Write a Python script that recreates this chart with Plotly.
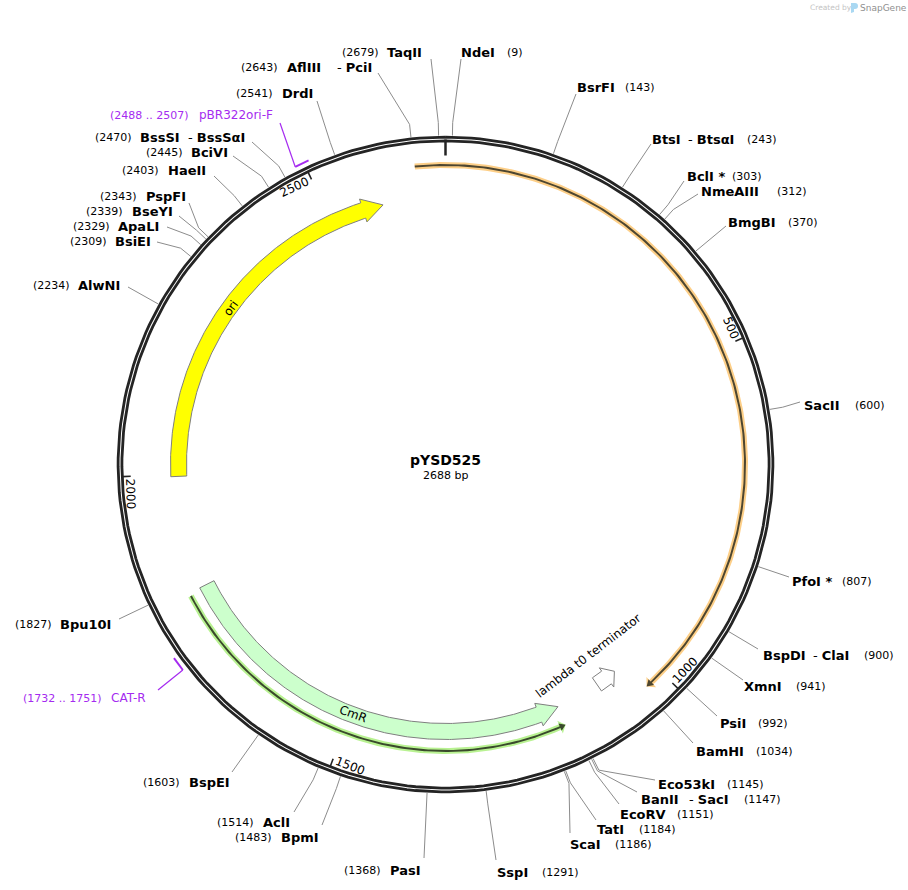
import numpy as np
import plotly.graph_objects as go

plasmid_name = "pYSD525"
plasmid_bp = 2688

# restriction sites, clockwise from the origin
site_names = ["NdeI", "BsrFI", "BtsI", "BclI *", "NmeAIII", "BmgBI", "SacII", "PfoI *", "BspDI", "XmnI", "PsiI",
              "BamHI", "Eco53kI", "BanII", "EcoRV", "TatI", "ScaI", "SspI", "PasI", "BpmI", "AclI", "BspEI",
              "Bpu10I", "AlwNI", "BsiEI", "ApaLI", "BseYI", "PspFI", "HaeII", "BciVI", "BssSI", "DrdI", "AflIII",
              "TaqII"]
site_pos = [9, 143, 243, 303, 312, 370, 600, 807, 900, 941, 992, 1034, 1145, 1147, 1151, 1184, 1186, 1291, 1368,
            1483, 1514, 1603, 1827, 2234, 2309, 2329, 2339, 2343, 2403, 2445, 2470, 2541, 2643, 2679]
# isoschizomers printed after a dash
second_names = {"BtsI": "BtsαI", "BspDI": "ClaI", "BanII": "SacI", "BssSI": "BssSαI", "AflIII": "PciI"}

# label layout, same order as the sites
name_x = [461, 577, 652, 687, 701, 728, 804, 792, 763, 744, 720, 696, 658, 641, 620, 597, 570, 497, 390, 281, 263,
          189, 60, 78, 115, 118, 132, 146, 168, 191, 140, 282, 287, 387]
num_x = [507, 625, 747, 732, 777, 788, 855, 842, 864, 796, 758, 756, 727, 744, 677, 639, 615, 542, 344, 235, 217,
         143, 15, 33, 70, 73, 86, 100, 122, 146, 95, 236, 241, 342]
label_y = [52, 87, 139, 176, 191, 222, 405, 581, 655, 686, 723, 751, 784, 799, 814, 829, 844, 872, 870, 837, 822,
           782, 624, 285, 241, 226, 211, 196, 170, 152, 137, 93, 67, 52]
leader_x = [461, 576, 651, 684, 698, 726, 800, 789, 758, 743, 717, 693, 655, 637, 619, 596, 570, 496, 424, 322, 294,
            232, 119, 128, 157, 167, 179, 189, 214, 233, 252, 317, 378, 431]
leader_y = [59, 94, 144, 181, 194, 226, 402, 577, 649, 680, 716, 743, 780, 792, 804, 820, 833, 860, 858, 825, 812,
            772, 619, 287, 242, 227, 216, 203, 176, 156, 142, 101, 73, 59]
second_x = {"BtsI": 688, "BspDI": 813, "BanII": 689, "BssSI": 188, "AflIII": 337}

# primers
primer_names = ["pBR322ori-F", "CAT-R"]
primer_start = [2488, 1732]
primer_end = [2507, 1751]
primer_name_x = [199, 111]
primer_num_x = [110, 23]
primer_label_y = [115, 698]
primer_leader_x = [280, 158]
primer_leader_y = [123, 690]

# block features, tip is at feature_end
feature_names = ["ori", "CmR", "lambda t0 terminator"]
feature_start = [1997, 1817, 1086]
feature_end = [2587, 1158, 1051]
feature_head = [33, 33, 16]
feature_fill = ["#ffff00", "#ccffcc", "#ffffff"]

# thin arrows with a glow
strand_start = [2644, 1812]
strand_end = [1029 + plasmid_bp, 1159]
strand_radius = [299.5, 286.5]
strand_head = [9, 9]
strand_glow = ["#fdcf88", "#b9f292"]
strand_core = ["#4d4630", "#3a4a2c"]

ruler_ticks = [500, 1000, 1500, 2000, 2500]

cx, cy = 445.5, 464.5
LINE = "#242424"
PURPLE = "#a52bf0"
FONT = "DejaVu Sans"

fig = go.Figure()


def bp_xy(bp, r):
    a = 2 * np.pi * np.asarray(bp, dtype=float) / plasmid_bp
    return cx + r * np.sin(a), cy - r * np.cos(a)


def arc(b0, b1, r):
    return bp_xy(np.linspace(b0, b1, 240), r)


def add_line(x, y, color, width, fill=None, fillcolor=None):
    fig.add_trace(go.Scatter(x=list(x), y=list(y), mode="lines", line=dict(color=color, width=width), fill=fill,
                             fillcolor=fillcolor, hoverinfo="skip", showlegend=False))


def arrow_shape(start, end, head, r_in, r_out, wing_in, wing_out):
    base = end - head if end > start else end + head
    xo, yo = arc(start, base, r_out)
    xi, yi = arc(base, start, r_in)
    xw1, yw1 = bp_xy(base, wing_out)
    xt, yt = bp_xy(end, (r_in + r_out) / 2)
    xw2, yw2 = bp_xy(base, wing_in)
    x = list(xo) + [xw1, xt, xw2] + list(xi) + [xo[0]]
    y = list(yo) + [yw1, yt, yw2] + list(yi) + [yo[0]]
    return x, y


def add_text(x, y, text, size=11, color="black", anchor="left", angle=0):
    fig.add_annotation(x=x, y=y, text=text, showarrow=False, xanchor=anchor, yanchor="middle", textangle=angle,
                       borderpad=0, borderwidth=0, font=dict(family=FONT, size=size, color=color))


# backbone
for r in [327.4, 323.6]:
    xs, ys = arc(0, plasmid_bp, r)
    add_line(xs, ys, LINE, 2.8)

# origin mark and ruler
xs, ys = bp_xy([0, 0], np.array([325, 309]))
add_line(xs, ys, LINE, 2.5)
for t in ruler_ticks:
    xs, ys = bp_xy([t, t], np.array([323, 315]))
    add_line(xs, ys, LINE, 1.6)
    label = str(t)
    deg = 360.0 * t / plasmid_bp
    lx, ly = bp_xy(t - 0.83 * len(label) * plasmid_bp / 360, 316)
    add_text(float(lx), float(ly), label, size=12, anchor="center", angle=(deg + 90) % 180 - 90)

# block features
for i in range(len(feature_names)):
    xs, ys = arrow_shape(feature_start[i], feature_end[i], feature_head[i], 259, 275, 255, 279)
    add_line(xs, ys, "#7f7f7f", 1, fill="toself", fillcolor=feature_fill[i])

# thin strands
for i in range(len(strand_start)):
    s, e, h, r = strand_start[i], strand_end[i], strand_head[i], strand_radius[i]
    xs, ys = arrow_shape(s, e, h, r - 3, r + 3, r - 7, r + 7)
    add_line(xs, ys, strand_glow[i], 0, fill="toself", fillcolor=strand_glow[i])
    xs, ys = arrow_shape(s, e, h, r - 1, r + 1, r - 4, r + 4)
    add_line(xs, ys, strand_core[i], 0, fill="toself", fillcolor=strand_core[i])

# site leaders and labels
for i, name in enumerate(site_names):
    x0, y0 = bp_xy(site_pos[i], 329)
    x1, y1 = bp_xy(site_pos[i], 342)
    add_line([x0, x1, leader_x[i]], [y0, y1, leader_y[i]], "#8c8c8c", 1)
    add_text(name_x[i], label_y[i], "<b>%s</b>" % name, size=13)
    add_text(num_x[i], label_y[i], "(%d)" % site_pos[i], size=11)
    if name in second_names:
        add_text(second_x[name], label_y[i], "- <b>%s</b>" % second_names[name], size=13)

# primers
for i, name in enumerate(primer_names):
    xs, ys = arc(primer_start[i], primer_end[i], 333.5)
    add_line(xs, ys, PURPLE, 2)
    add_line([primer_leader_x[i], xs[0]], [primer_leader_y[i], ys[0]], PURPLE, 1.2)
    add_text(primer_name_x[i], primer_label_y[i], name, size=12, color=PURPLE)
    add_text(primer_num_x[i], primer_label_y[i], "(%d .. %d)" % (primer_start[i], primer_end[i]), size=11,
             color=PURPLE)

# feature labels
add_text(231, 308, feature_names[0], size=12, anchor="center", angle=-54)
add_text(353, 714, feature_names[1], size=12, anchor="center", angle=20)
add_text(588, 656, feature_names[2], size=12, anchor="center", angle=-37.5)

# centre
add_text(cx, 460, "<b>%s</b>" % plasmid_name, size=14, anchor="center")
add_text(cx, 475, "%d bp" % plasmid_bp, size=11, anchor="center")

# watermark
add_text(810, 7.5, "Created by", size=7.5, color="#c4c4c4")
add_text(860, 7.5, "SnapGene", size=9, color="#8f8f8f")
fig.add_shape(type="path", path="M 851 3 L 855 3 Q 858 3 858 6 Q 858 9 855 9 L 854 9 L 854 12 L 851 13 Z",
              fillcolor="#a9d8f2", line=dict(width=0))

fig.update_layout(
    width=908, height=890,
    margin=dict(l=0, r=0, t=0, b=0),
    paper_bgcolor="white", plot_bgcolor="white",
    xaxis=dict(range=[0, 908], visible=False, fixedrange=True),
    yaxis=dict(range=[890, 0], visible=False, fixedrange=True),
    showlegend=False,
)

fig.write_html("out.html", post_script="document.body.style.margin='0';", config=dict(displayModeBar=False))
